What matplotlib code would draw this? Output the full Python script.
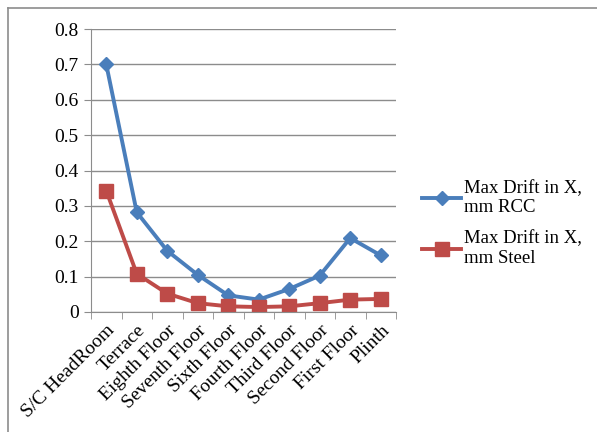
import numpy as np
import matplotlib.pyplot as plt
from matplotlib.lines import Line2D

floors = ['S/C HeadRoom', 'Terrace', 'Eighth Floor', 'Seventh Floor', 'Sixth Floor',
          'Fourth Floor', 'Third Floor', 'Second Floor', 'First Floor', 'Plinth']
rcc = [0.70, 0.282, 0.173, 0.105, 0.047, 0.035, 0.065, 0.103, 0.209, 0.160]
steel = [0.343, 0.108, 0.052, 0.025, 0.016, 0.014, 0.016, 0.025, 0.035, 0.037]

plt.rcParams['font.family'] = ['Liberation Serif', 'DejaVu Serif']

W, H = 597, 432
fig = plt.figure(figsize=(W / 100, H / 100), dpi=100)
ax = fig.add_axes([91 / W, 1 - 312 / H, (396 - 91) / W, (312 - 29) / H])

x = np.arange(len(floors))
ax.plot(x, rcc, color='#4a7ebb', lw=2.8, marker='D', ms=7, label='Max Drift in X,\nmm RCC')
ax.plot(x, steel, color='#be4b48', lw=2.8, marker='s', ms=10, label='Max Drift in X,\nmm Steel')

ax.set_xlim(-0.5, len(floors) - 0.5)
ax.set_ylim(0, 0.8)
ax.set_yticks(np.arange(0, 0.81, 0.1))
ax.set_yticklabels(['0'] + ['%.1f' % v for v in np.arange(0.1, 0.81, 0.1)])
ax.yaxis.grid(True, color='#8c8c8c', lw=1)
ax.set_axisbelow(True)
ax.set_xticks(x)
ax.set_xticklabels(floors, rotation=45, ha='right', rotation_mode='anchor')
ax.set_xticks(np.arange(-0.5, len(floors)), minor=True)
ax.tick_params(axis='x', which='major', length=0, pad=7)
ax.tick_params(axis='x', which='minor', length=5, color='#8c8c8c')
ax.tick_params(axis='y', length=5, color='#8c8c8c', pad=4)
ax.tick_params(labelsize=14)
for s in ['top', 'right']:
    ax.spines[s].set_visible(False)
for s in ['left', 'bottom']:
    ax.spines[s].set_color('#8c8c8c')

handles = [Line2D([], [], color='#4a7ebb', lw=2.8, marker='D', ms=7),
           Line2D([], [], color='#be4b48', lw=2.8, marker='s', ms=10)]
fig.legend(handles, ['Max Drift in X,\nmm RCC', 'Max Drift in X,\nmm Steel'],
           loc='upper left', bbox_to_anchor=(405 / W, 1 - 163 / H), frameon=False,
           fontsize=13.5, handlelength=2.1, handletextpad=0.15, labelspacing=0.75)

# outer chart border (left and top edges only visible)
fig.add_artist(Line2D([7.5 / W, 7.5 / W], [0, 1 - 7.5 / H], transform=fig.transFigure,
                      color='#8c8c8c', lw=1.2))
fig.add_artist(Line2D([7.5 / W, 1], [1 - 7.5 / H, 1 - 7.5 / H], transform=fig.transFigure,
                      color='#8c8c8c', lw=1.2))

fig.savefig('out.png', dpi=100)
